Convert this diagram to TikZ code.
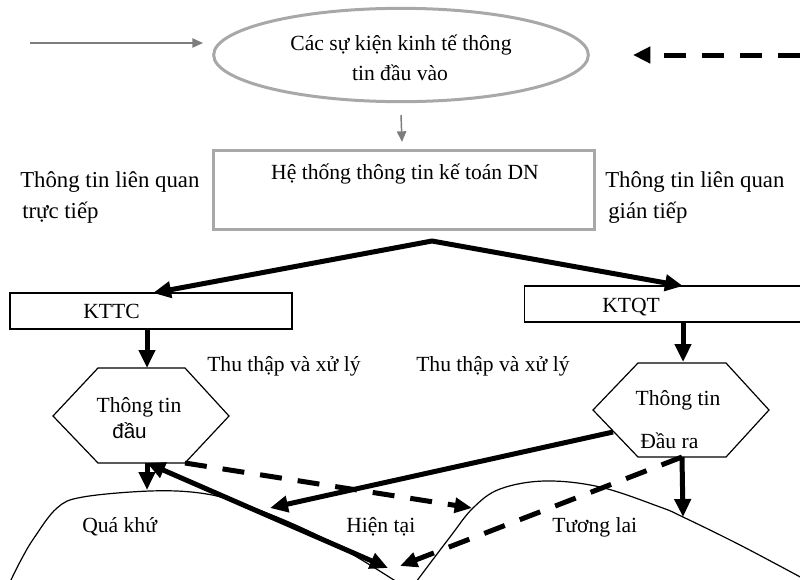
\documentclass[tikz,border=0pt]{standalone}
\usepackage{fontspec}
\setmainfont{Liberation Serif}
\newfontfamily\sansf{Liberation Sans}
\usetikzlibrary{arrows.meta,shapes.geometric}
\definecolor{lightgr}{RGB}{168,168,168}
\definecolor{midgr}{RGB}{125,125,125}
\newcommand\fsz{\fontsize{16.2pt}{20pt}\selectfont}
\newcommand\fszb{\fontsize{17.1pt}{20pt}\selectfont}
\begin{document}
\begin{tikzpicture}[x=0.75pt,y=-0.75pt,
  lbl/.style={font=\fsz, inner sep=0pt, anchor=base},
  lblw/.style={font=\fsz, inner sep=0pt, anchor=base west},
  sidelbl/.style={font=\fszb, inner sep=0pt, anchor=base west},
  graybox/.style={draw=lightgr, line width=2.25pt, inner sep=0pt},
  blackbox/.style={draw=black, line width=1.1pt, inner sep=0pt, minimum height=27pt},
  grayarrow/.style={draw=midgr, line width=1.1pt, -{Triangle[length=8pt,width=7pt]}},
  bigline/.style={line width=3.75pt},
  bigarrow/.style={line width=3.75pt, -{Triangle[length=13.5pt,width=12pt]}},
  dasharrow/.style={line width=3.75pt, dash pattern=on 16.5pt off 12pt, -{Triangle[length=13pt,width=11pt]}},
  hill/.style={line width=0.9pt},
  hexline/.style={line width=0.9pt, line join=miter}
]
\useasboundingbox (0,0) rectangle (800,579);
\clip (0,0) rectangle (800,579);

% top ellipse and main box
\node[ellipse, graybox, minimum width=281pt, minimum height=70pt] (ell) at (401,55) {};
\node[lbl] (ellA) at (401,50) {Các sự kiện kinh tế thông};
\node[lbl] (ellB) at (400,80) {tin đầu vào};

\node[graybox, minimum width=285.75pt, minimum height=59.25pt] (hts) at (403.5,189.5) {};
\node[lbl] (htsT) at (405,179) {Hệ thống thông tin kế toán DN};

\coordinate (inL) at (30,43);
\coordinate (inLend) at (203,43);
\draw[grayarrow] (inL) -- (inLend);
\draw[grayarrow] (ell.south |- 0,115) coordinate (e1) -- (402,142) coordinate (e2);

\coordinate (inR) at (800,55);
\coordinate (inRend) at (633,55);
\draw[line width=3.75pt, dash pattern=on 16.5pt off 12pt, -{Triangle[length=13pt,width=12pt]}] (inR) -- (inRend);

% side labels
\node[sidelbl] (sl1) at (20,187) {Thông tin liên quan};
\node[sidelbl] (sl2) at (22,218) {trực tiếp};
\node[sidelbl] (sr1) at (605,187) {Thông tin liên quan};
\node[sidelbl] (sr2) at (608,218) {gián tiếp};

% KTTC / KTQT boxes
\node[blackbox, minimum width=211.5pt] (kttc) at (151,311) {};
\node[lblw] (kttcT) at (83,318) {KTTC};
\node[blackbox, minimum width=215pt] (ktqt) at (668,304) {};
\node[lblw] (ktqtT) at (602,312) {KTQT};

\coordinate (apex) at (432,241);
\coordinate (tipL) at (153,293);
\coordinate (tipR) at (683,286);
\draw[bigline, line join=miter, {Triangle[length=13.5pt,width=12pt]}-{Triangle[length=13.5pt,width=12pt]}] (tipL) -- (apex) -- (tipR);

% hexagons
\coordinate (h1a) at (53,416);
\coordinate (h1b) at (98,368);
\coordinate (h1c) at (185,368);
\coordinate (h1d) at (229,416);
\coordinate (h1e) at (185,463);
\coordinate (h1f) at (98,463);
\draw[hexline] (h1a) -- (h1b) -- (h1c) -- (h1d) -- (h1e) -- (h1f) -- cycle;
\node[lbl] (h1t1) at (139,412) {Thông tin};
\node[lblw, font=\sansf\fontsize{15.5pt}{18pt}\selectfont] (h1t2) at (112,438) {đầu};

\coordinate (h2a) at (593,410);
\coordinate (h2b) at (638,363);
\coordinate (h2c) at (726,363);
\coordinate (h2d) at (769,410);
\coordinate (h2e) at (726,457);
\coordinate (h2f) at (638,457);
\draw[hexline] (h2a) -- (h2b) -- (h2c) -- (h2d) -- (h2e) -- (h2f) -- cycle;
\node[lbl] (h2t1) at (678,405) {Thông tin};
\node[lblw] (h2t2) at (640,448) {Đầu ra};

\draw[bigarrow] (kttc.south -| 147,0) -- (147,368) coordinate (h1top);
\draw[bigarrow] (ktqt.south -| 683,0) -- (683,362) coordinate (h2top);

\node[lblw] (thu1) at (207,371) {Thu thập và xử lý};
\node[lblw] (thu2) at (416,371) {Thu thập và xử lý};

% hills
\draw[hill] plot[smooth, tension=0.6] coordinates {(10,582) (21,560) (34,538) (57,508) (83,497) (150,491) (200,493) (240,503) (300,527) (350,553) (397,582)};
\draw[hill] plot[smooth, tension=0.6] coordinates {(416,582) (450,537) (473,508) (500,489) (545,481) (600,487) (660,507) (683,517) (740,545) (804,579)};

\node[lblw] (past) at (82,532) {Quá khứ};
\node[lblw] (now) at (346,532) {Hiện tại};
\node[lblw] (fut) at (552,532) {Tương lai};

% flows
\coordinate (pastTop) at (147,490);
\coordinate (nowA) at (388,568);
\coordinate (nowB) at (400,566);
\coordinate (nowC) at (270,508);
\coordinate (futA) at (472,508);
\coordinate (futB) at (683,517);
\coordinate (h1bot) at (147,463);
\coordinate (h2left) at (613,432);
\coordinate (h2bot) at (682,457);

\draw[bigarrow] (h1bot) -- (pastTop);
\draw[bigline, {Triangle[length=13.5pt,width=12pt]}-{Triangle[length=13.5pt,width=12pt]}] (h1bot) -- (nowA);
\draw[dasharrow] (h1e) -- (futA);
\draw[bigarrow] (h2left) -- (nowC);
\draw[dasharrow] (h2bot) -- (nowB);
\draw[bigarrow] (h2bot) -- (futB);
\end{tikzpicture}
\end{document}
